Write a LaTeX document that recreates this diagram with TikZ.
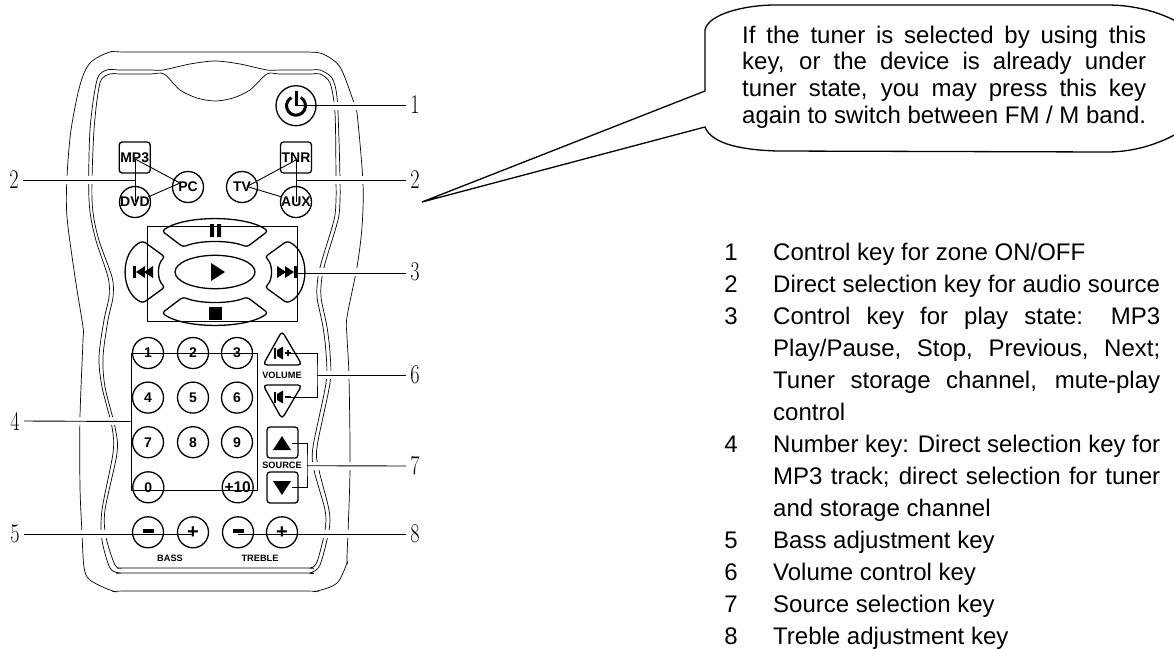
\documentclass[tikz,border=0pt]{standalone}
\usepackage{fontspec}
\setsansfont{Liberation Sans}
\newcommand{\leadnum}[1]{\scalebox{.75}[1]{#1}}
\begin{document}
\begin{tikzpicture}[x=1pt,y=-1pt,
    contour/.style={line width=.7pt},
    keyline/.style={draw,line width=1.3pt},
    roundkey/.style={keyline,circle,minimum size=31pt,inner sep=0pt,font=\fontsize{14pt}{14pt}\selectfont\sffamily\bfseries},
    squarekey/.style={keyline,rectangle,rounded corners=3pt,minimum size=31pt,inner sep=0pt,font=\fontsize{14pt}{14pt}\selectfont\sffamily\bfseries},
    panel/.style={inner sep=0pt,font=\fontsize{9.2pt}{10pt}\selectfont\sffamily\bfseries},
    leader/.style={line width=.9pt},
    leadlabel/.style={inner sep=0pt,minimum width=18pt,font=\fontsize{27pt}{27pt}\selectfont},
    bodytext/.style={inner sep=0pt,anchor=north west,align=justify,font=\fontsize{24pt}{32pt}\selectfont\sffamily}]
\useasboundingbox (0,0) rectangle (1174,648);
\clip (0,0) rectangle (1174,648);
\draw[contour] plot[smooth cycle,tension=.5] coordinates {(110,52) (130,52) (290,52) (307,52) (323,54) (340,67) (353,100) (357,113) (363,183) (362,227) (357,267) (347,317) (347,337) (349,377) (350,470) (347,557) (347,563) (337,583) (317,591) (300,591) (130,591) (113,591) (90,580) (84,567) (82,533) (80,487) (80,417) (83,340) (83,327) (75,277) (67,217) (67,177) (71,130) (80,85) (90,63)};
\draw[contour] plot[smooth cycle,tension=.5] coordinates {(107,70) (120,70) (150,70) (163,70) (190,64) (215,61) (240,64) (267,70) (280,70) (310,70) (320,70) (332,78) (337,97) (339,140) (340,180) (340,200) (338,220) (326,260) (322,277) (321,297) (327,327) (330,353) (330,383) (317,447) (319,470) (329,510) (329,530) (320,565) (310,573) (300,573) (130,573) (120,573) (110,568) (102,540) (102,510) (113,453) (112,427) (102,387) (99,357) (104,320) (109,297) (108,277) (95,237) (89,200) (90,130) (97,80)};
\draw[contour] plot[smooth cycle,tension=.5] coordinates {(110,74) (120,74) (150,74) (164,74) (180,90) (197,98) (215,101) (233,98) (250,90) (267,74) (280,74) (310,74) (320,74) (330,83) (335,113) (336,180) (336,200) (334,220) (322,260) (318,277) (317,297) (323,327) (326,353) (326,383) (313,447) (314,470) (325,510) (325,530) (317,562) (310,568) (300,568) (130,568) (122,568) (115,565) (106,537) (105,510) (117,453) (115,427) (105,387) (103,357) (108,320) (113,297) (112,277) (98,237) (92,200) (94,130) (100,83)};
\foreach \yl/\xa/\xb in {105.7/310/400,180/30/130,180/300/400,271.7/300/400,375/320/400,465.7/310/400,534/30/130,534/300/400,421/30/125}
    \draw[white,line width=8pt] (\xa,\yl) -- (\xb,\yl);
\node[roundkey,minimum size=40pt] (power) at (296,105.7) {};
\draw[line width=3pt] (power.center) ++(-60:9.5) arc[start angle=-60,end angle=240,radius=9.5];
\draw[line width=3pt] (296,91) -- (power.center);
\node[squarekey] (mp3) at (134.7,157.5) {MP3};
\node[squarekey] (tnr) at (296,157.5) {TNR};
\node[roundkey] (pc) at (188,187) {PC};
\node[roundkey] (tv) at (242,187) {TV};
\node[roundkey] (dvd) at (135,202) {DVD};
\node[roundkey] (aux) at (296,202) {AUX};
\foreach \m in {1,-1} {
    \draw[keyline,rounded corners=3pt] (162,272-41*\m) .. controls (185,272-57*\m) and (245,272-57*\m) .. (268,272-41*\m) -- (247,272-25*\m) .. controls (230,272-32*\m) and (200,272-32*\m) .. (183,272-25*\m) -- cycle;
    \draw[keyline,rounded corners=3pt] (215-72*\m,241) .. controls (215-95*\m,252) and (215-95*\m,292) .. (215-72*\m,303) -- (215-50*\m,287) .. controls (215-58*\m,280) and (215-58*\m,264) .. (215-50*\m,257) -- cycle;
    \fill (215-82*\m,266) rectangle (215-79*\m,278);
    \fill (215-79*\m,272) -- (215-70*\m,266) -- (215-70*\m,278) -- cycle;
    \fill (215-71*\m,272) -- (215-62*\m,266) -- (215-62*\m,278) -- cycle;
}
\draw[keyline] (215,272) ellipse [x radius=40,y radius=16.7];
\fill (210,224) rectangle (214,237) (217,224) rectangle (221,237);
\fill (211,263) -- (211,281) -- (225,272) -- cycle;
\fill (209,307) rectangle (222,320);
\foreach \t [count=\i from 0] in {1,2,3,4,5,6,7,8,9} {
    \pgfmathtruncatemacro{\kx}{148.3+44.7*mod(\i,3)}
    \pgfmathsetmacro{\ky}{353+44.6*floor(\i/3)}
    \node[roundkey] (num\t) at (\kx,\ky) {\t};
}
\node[roundkey] (num0) at (148.3,487.3) {0};
\node[roundkey,font=\fontsize{15.5pt}{15.5pt}\selectfont\sffamily\bfseries] (numten) at (237.7,487.3) {+10};
\node[draw,leader,minimum width=126pt,minimum height=137pt,inner sep=0pt] (numbox) at (194,421.5) {};
\node[draw,leader,minimum width=150pt,minimum height=95pt,inner sep=0pt] (playbox) at (222,273.5) {};
\foreach \x/\nm/\t in {148/bassdn/{\rule[3pt]{11pt}{4.5pt}},193/bassup/+,238/trebdn/{\rule[3pt]{11pt}{4.5pt}},282/trebup/+}
    \node[roundkey,font=\fontsize{20pt}{20pt}\selectfont\sffamily\bfseries] (\nm) at (\x,532.3) {\t};
\node[panel] (basslabel) at (170,558) {BASS};
\node[panel] (treblelabel) at (260,558) {TREBLE};
\draw[keyline,rounded corners=4pt] (282,331) -- (302,365) -- (263,365) -- cycle;
\draw[keyline,rounded corners=4pt] (282,419) -- (302,385) -- (263,385) -- cycle;
\foreach \y/\sg in {353/+,397/-} {
    \fill (274,\y-5.5) rectangle (276,\y+5.5);
    \fill (277,\y-3) -- (283,\y-6.5) -- (283,\y+6.5) -- (277,\y+3) -- cycle;
    \fill (285,\y-1.2) rectangle (291,\y+1.2);
}
\fill (286.8,350) rectangle (289.2,356);
\node[panel] (vollabel) at (282,375) {VOLUME};
\node[squarekey] (srcup) at (282.5,442.5) {};
\node[squarekey] (srcdn) at (282.5,487.5) {};
\fill (273,450) -- (291,450) -- (282,436) -- cycle;
\fill (273,481) -- (291,481) -- (282,495) -- cycle;
\node[panel] (srclabel) at (282,465) {SOURCE};
\node[leadlabel] (lead1) at (415,105) {\leadnum{1}};
\node[leadlabel] (lead2r) at (415,180) {\leadnum{2}};
\node[leadlabel] (lead2l) at (14,180) {\leadnum{2}};
\node[leadlabel] (lead3) at (415,272) {\leadnum{3}};
\node[leadlabel] (lead4) at (15,421) {\leadnum{4}};
\node[leadlabel] (lead5) at (15,534) {\leadnum{5}};
\node[leadlabel] (lead6) at (415,375) {\leadnum{6}};
\node[leadlabel] (lead7) at (415,466) {\leadnum{7}};
\node[leadlabel] (lead8) at (415,534) {\leadnum{8}};
\coordinate (volup) at (287,353);
\coordinate (voldn) at (287,397);
\coordinate (volmid) at (317,375);
\coordinate (srcupin) at (292,443);
\coordinate (srcdnin) at (292,487);
\coordinate (srcmid) at (307,465.7);
\coordinate (mp3in) at (135,159);
\coordinate (tnrin) at (296,160);
\coordinate (pcin) at (180,183);
\coordinate (tvin) at (247,186.5);
\draw[leader] (power.center) -- (lead1.west |- power.center);
\draw[leader] (lead2l.east) -- (lead2l.east -| mp3in);
\draw[leader] (aux.center |- lead2r.west) -- (lead2r.west);
\draw[leader] (playbox.east) -- (lead3.west |- playbox.east);
\draw[leader] (lead4.east) -- (numbox.west);
\draw[leader] (lead5.east) -- (bassup.center |- lead5.east);
\draw[leader] (trebdn.center |- lead8.west) -- (lead8.west);
\draw[leader] (volup) -| (volmid) |- (voldn);
\draw[leader] (volmid) -- (lead6.west);
\draw[leader] (srcupin) -| (srcmid) |- (srcdnin);
\draw[leader] (srcmid) -- (lead7.west);
\draw[leader] (mp3in) -- (pcin);
\draw[leader] (mp3in) -- (dvd.center);
\draw[leader] (pcin) -- (148,197);
\draw[leader] (tnrin) -- (tvin);
\draw[leader] (tnrin) -- (aux.center);
\draw[leader] (tvin) -- (282,197);
\coordinate (tip) at (422,202);
\draw[line width=1.3pt] (tip) -- (705,91) -- (705,30) .. controls (708,14) and (745,5) .. (775,5) -- (1107,5) .. controls (1140,5) and (1170,15) .. (1190,30) -- (1190,125) .. controls (1170,140) and (1140,152) .. (1107,152) -- (777,151) .. controls (745,150) and (712,145) .. (705,127) -- cycle;
\node[bodytext,text width=404pt,font=\fontsize{24pt}{26.7pt}\selectfont\sffamily] (tunernote) at (742,24.3) {\strut If the tuner is selected by using this\linebreak key, or the device is already under\linebreak tuner state, you may press this key\linebreak again to switch between FM / M band.};
\foreach \i/\yb/\t in {1/260/{Control key for zone ON/OFF},2/292/{Direct selection key for audio source},3/324/{Control key for play state: MP3\linebreak Play/Pause, Stop, Previous, Next;\linebreak Tuner storage channel, mute-play\linebreak control},4/452/{Number key: Direct selection key for\linebreak MP3 track; direct selection for tuner\linebreak and storage channel},5/548/{Bass adjustment key},6/580/{Volume control key},7/612/{Source selection key},8/644/{Treble adjustment key}} {
    \node[inner sep=0pt,anchor=base,font=\fontsize{24pt}{32pt}\selectfont\sffamily] (itemnum\i) at (731,\yb) {\i};
    \node[bodytext,text width=387pt] (item\i) at (773,\yb-22.4) {\strut\t};
}
\end{tikzpicture}
\end{document}
